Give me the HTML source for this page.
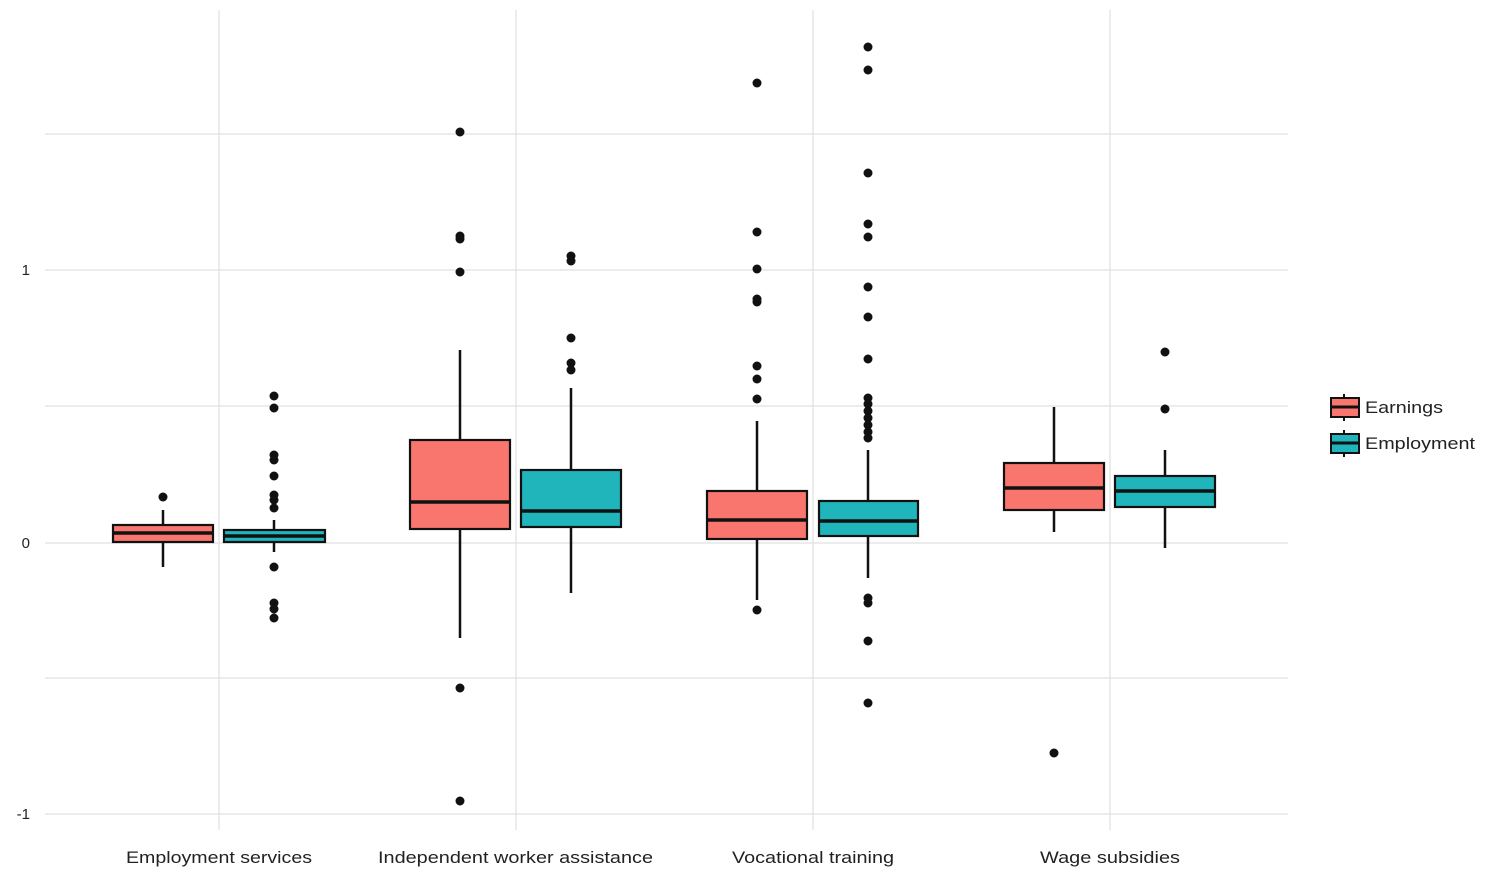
<!DOCTYPE html>
<html><head><meta charset="utf-8"><style>
html,body{margin:0;padding:0;background:#fff;}
svg text{font-family:"Liberation Sans",sans-serif;fill:#222;}
</style></head><body>
<svg width="1500" height="880" xmlns="http://www.w3.org/2000/svg">
<g stroke="#e0e0e0" stroke-width="1.2">
<line x1="45" x2="1288" y1="134" y2="134"/><line x1="45" x2="1288" y1="270" y2="270"/>
<line x1="45" x2="1288" y1="406" y2="406"/><line x1="45" x2="1288" y1="543" y2="543"/>
<line x1="45" x2="1288" y1="678" y2="678"/><line x1="45" x2="1288" y1="814" y2="814"/>
<line x1="219" x2="219" y1="10" y2="830"/><line x1="516" x2="516" y1="10" y2="830"/>
<line x1="813" x2="813" y1="10" y2="830"/><line x1="1110" x2="1110" y1="10" y2="830"/>
</g>
<g font-size="15" text-anchor="end">
<text x="30" y="275">1</text><text x="30" y="548">0</text><text x="30" y="819">-1</text>
</g>
<g font-size="17" lengthAdjust="spacingAndGlyphs">
<text x="126" y="863" textLength="186" lengthAdjust="spacingAndGlyphs">Employment services</text>
<text x="378" y="863" textLength="275" lengthAdjust="spacingAndGlyphs">Independent worker assistance</text>
<text x="732" y="863" textLength="162" lengthAdjust="spacingAndGlyphs">Vocational training</text>
<text x="1040" y="863" textLength="140" lengthAdjust="spacingAndGlyphs">Wage subsidies</text>
</g>
<g stroke="#111" stroke-width="2.5">
<line x1="163" x2="163" y1="510" y2="567"/><line x1="274" x2="274" y1="520" y2="552"/>
<line x1="460" x2="460" y1="350" y2="638"/><line x1="571" x2="571" y1="388" y2="593"/>
<line x1="757" x2="757" y1="421" y2="600"/><line x1="868" x2="868" y1="450" y2="578"/>
<line x1="1054" x2="1054" y1="407" y2="532"/><line x1="1165" x2="1165" y1="450" y2="548"/>
</g>
<g stroke="#111" stroke-width="2.2">
<rect x="113" y="525" width="100" height="17" fill="#F8766D"/>
<rect x="224" y="530" width="101" height="12" fill="#1FB5BB"/>
<rect x="410" y="440" width="100" height="89" fill="#F8766D"/>
<rect x="521" y="470" width="100" height="57" fill="#1FB5BB"/>
<rect x="707" y="491" width="100" height="48" fill="#F8766D"/>
<rect x="819" y="501" width="99" height="35" fill="#1FB5BB"/>
<rect x="1004" y="463" width="100" height="47" fill="#F8766D"/>
<rect x="1115" y="476" width="100" height="31" fill="#1FB5BB"/>
</g>
<g stroke="#111" stroke-width="3.5">
<line x1="113" x2="213" y1="533" y2="533"/><line x1="224" x2="325" y1="536" y2="536"/>
<line x1="410" x2="510" y1="502" y2="502"/><line x1="521" x2="621" y1="511" y2="511"/>
<line x1="707" x2="807" y1="520" y2="520"/><line x1="819" x2="918" y1="521" y2="521"/>
<line x1="1004" x2="1104" y1="488" y2="488"/><line x1="1115" x2="1215" y1="491" y2="491"/>
</g>
<g fill="#111">
<circle cx="163" cy="497" r="4.5"/>
<circle cx="274" cy="396" r="4.5"/><circle cx="274" cy="408" r="4.5"/><circle cx="274" cy="455" r="4.5"/><circle cx="274" cy="460" r="4.5"/><circle cx="274" cy="476" r="4.5"/><circle cx="274" cy="495" r="4.5"/><circle cx="274" cy="500" r="4.5"/><circle cx="274" cy="508" r="4.5"/><circle cx="274" cy="567" r="4.5"/><circle cx="274" cy="603" r="4.5"/><circle cx="274" cy="609" r="4.5"/><circle cx="274" cy="618" r="4.5"/>
<circle cx="460" cy="132" r="4.5"/><circle cx="460" cy="236" r="4.5"/><circle cx="460" cy="239" r="4.5"/><circle cx="460" cy="272" r="4.5"/><circle cx="460" cy="688" r="4.5"/><circle cx="460" cy="801" r="4.5"/>
<circle cx="571" cy="256" r="4.5"/><circle cx="571" cy="261" r="4.5"/><circle cx="571" cy="338" r="4.5"/><circle cx="571" cy="363" r="4.5"/><circle cx="571" cy="370" r="4.5"/>
<circle cx="757" cy="83" r="4.5"/><circle cx="757" cy="232" r="4.5"/><circle cx="757" cy="269" r="4.5"/><circle cx="757" cy="299" r="4.5"/><circle cx="757" cy="302" r="4.5"/><circle cx="757" cy="366" r="4.5"/><circle cx="757" cy="379" r="4.5"/><circle cx="757" cy="399" r="4.5"/><circle cx="757" cy="610" r="4.5"/>
<circle cx="868" cy="47" r="4.5"/><circle cx="868" cy="70" r="4.5"/><circle cx="868" cy="173" r="4.5"/><circle cx="868" cy="224" r="4.5"/><circle cx="868" cy="237" r="4.5"/><circle cx="868" cy="287" r="4.5"/><circle cx="868" cy="317" r="4.5"/><circle cx="868" cy="359" r="4.5"/><circle cx="868" cy="398" r="4.5"/><circle cx="868" cy="404" r="4.5"/><circle cx="868" cy="411" r="4.5"/><circle cx="868" cy="418" r="4.5"/><circle cx="868" cy="425" r="4.5"/><circle cx="868" cy="432" r="4.5"/><circle cx="868" cy="438" r="4.5"/><circle cx="868" cy="598" r="4.5"/><circle cx="868" cy="603" r="4.5"/><circle cx="868" cy="641" r="4.5"/><circle cx="868" cy="703" r="4.5"/>
<circle cx="1054" cy="753" r="4.5"/>
<circle cx="1165" cy="352" r="4.5"/><circle cx="1165" cy="409" r="4.5"/>
</g>
<g stroke="#111" stroke-width="2">
<line x1="1344" x2="1344" y1="394" y2="421"/><rect x="1331" y="398" width="28" height="19" fill="#F8766D"/><line x1="1331" x2="1359" y1="407" y2="407" stroke-width="3"/>
<line x1="1344" x2="1344" y1="430" y2="457"/><rect x="1331" y="434" width="28" height="19" fill="#1FB5BB"/><line x1="1331" x2="1359" y1="443" y2="443" stroke-width="3"/>
</g>
<g font-size="17"><text x="1365" y="413" textLength="78" lengthAdjust="spacingAndGlyphs">Earnings</text><text x="1365" y="449" textLength="110" lengthAdjust="spacingAndGlyphs">Employment</text></g>
</svg>
</body></html>
